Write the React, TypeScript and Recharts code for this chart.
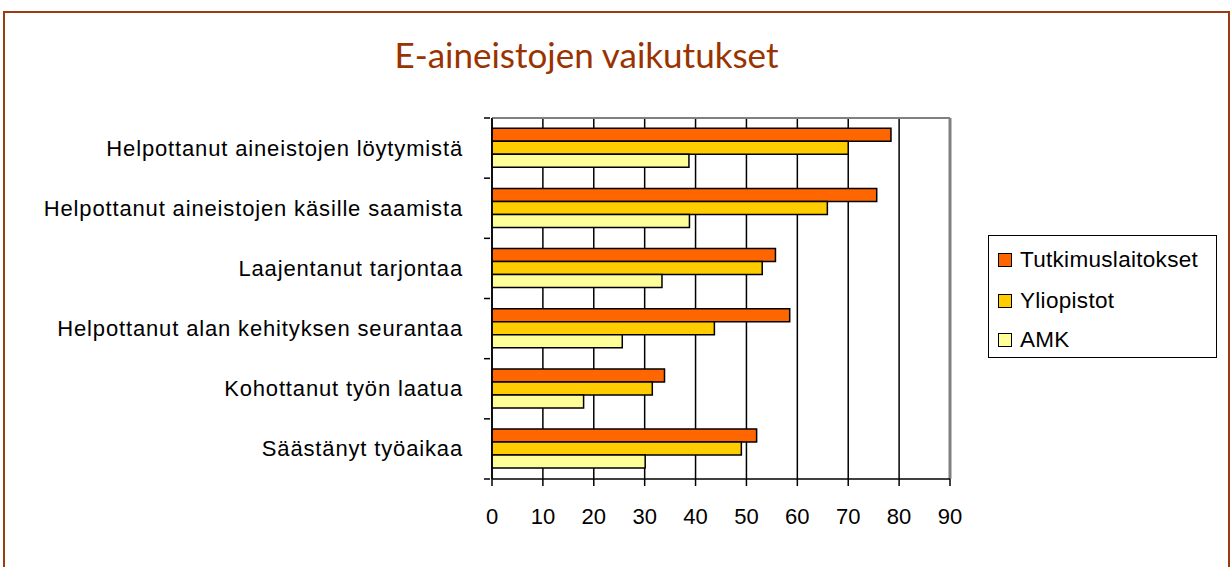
import React from "react";
import { BarChart, Bar, XAxis, YAxis, CartesianGrid, ReferenceLine } from "recharts";

const categories = [
  "Helpottanut aineistojen löytymistä",
  "Helpottanut aineistojen käsille saamista",
  "Laajentanut tarjontaa",
  "Helpottanut alan kehityksen seurantaa",
  "Kohottanut työn laatua",
  "Säästänyt työaikaa",
];
const tutkimuslaitokset = [78.4, 75.6, 55.7, 58.5, 33.9, 52.0];
const yliopistot = [70.0, 65.9, 53.1, 43.7, 31.5, 49.0];
const amk = [38.7, 38.8, 33.4, 25.6, 18.0, 30.1];
const xTicks = [0, 10, 20, 30, 40, 50, 60, 70, 80, 90];

const seriesNames = ["Tutkimuslaitokset", "Yliopistot", "AMK"];
const seriesColors = ["#FF6600", "#FFCC00", "#FFFF99"];

const data = categories.map((c, i) => ({
  name: c,
  Tutkimuslaitokset: tutkimuslaitokset[i],
  Yliopistot: yliopistot[i],
  AMK: amk[i],
}));

const FONT = "'Liberation Sans', Arial, sans-serif";
const HALF_BAND = 30.08;

const YTick = (props: any) => {
  const { x, y, payload, index } = props;
  const ax = x + 6;
  return (
    <g>
      <text
        x={ax - 27}
        y={y}
        textAnchor="end"
        dominantBaseline="central"
        fontFamily={FONT}
        fontSize={22}
        letterSpacing={0.85}
        fill="#000"
      >
        {payload.value}
      </text>
      <line x1={ax - 6} x2={ax} y1={y - HALF_BAND} y2={y - HALF_BAND} stroke="#000" strokeWidth={1.5} />
      {index === categories.length - 1 ? (
        <line x1={ax - 6} x2={ax} y1={y + HALF_BAND} y2={y + HALF_BAND} stroke="#000" strokeWidth={1.5} />
      ) : null}
    </g>
  );
};

const XTick = (props: any) => {
  const { x, y, payload } = props;
  return (
    <text x={x} y={y + 28} textAnchor="middle" dominantBaseline="central" fontFamily={FONT} fontSize={22} fill="#000">
      {payload.value}
    </text>
  );
};

const LegendBox = () => (
  <div
    style={{
      position: "absolute",
      left: 988,
      top: 235,
      width: 229,
      height: 123,
      border: "1.5px solid #000",
      background: "#fff",
      fontFamily: FONT,
      fontSize: 22.5,
      letterSpacing: 0.3,
      boxSizing: "border-box",
    }}
  >
    {seriesNames.map((n, i) => (
      <div
        key={n}
        style={{
          position: "absolute",
          left: 9,
          top: 24 - 12 + [0, 41, 80][i],
          display: "flex",
          alignItems: "center",
          height: 24,
          whiteSpace: "nowrap",
        }}
      >
        <div
          style={{
            width: 12,
            height: 12,
            background: seriesColors[i],
            border: "1.5px solid #000",
            marginRight: 8,
            flex: "none",
          }}
        />
        <span>{n}</span>
      </div>
    ))}
  </div>
);

export default function App() {
  return (
    <div style={{ position: "absolute", left: 0, top: 0, width: 1230, height: 567, background: "#fff", overflow: "hidden" }}>
      <div
        style={{
          position: "absolute",
          left: 3,
          top: 11,
          width: 1223,
          height: 600,
          borderLeft: "2px solid #9A3B12",
          borderTop: "2px solid #9A3B12",
          borderRight: "2px solid #9A3B12",
        }}
      />
      <svg width={1230} height={100} style={{ position: "absolute", left: 0, top: 0 }}>
        <text
          x={586.5}
          y={68}
          textAnchor="middle"
          fontFamily="Lato, 'Open Sans', sans-serif"
          fontSize={35}
          fill="#993300"
        >
          E-aineistojen vaikutukset
        </text>
      </svg>
      <div style={{ position: "absolute", left: 0, top: 0 }}>
        <BarChart
          width={1230}
          height={567}
          data={data}
          layout="vertical"
          margin={{ top: 118, right: 280, bottom: 48, left: 0 }}
          barCategoryGap="17%"
          barGap={0}
        >
          <CartesianGrid horizontal={false} stroke="#000" strokeWidth={1.5} />
          <CartesianGrid vertical={false} horizontalPoints={[118]} stroke="#808080" strokeWidth={2} />
          <XAxis
            type="number"
            domain={[0, 90]}
            ticks={xTicks}
            interval={0}
            height={40}
            axisLine={{ stroke: "#000", strokeWidth: 1.5 }}
            tickLine={{ stroke: "#000", strokeWidth: 1.5 }}
            tickSize={7}
            tick={<XTick />}
          />
          <YAxis
            type="category"
            dataKey="name"
            width={492}
            axisLine={{ stroke: "#000", strokeWidth: 1.5 }}
            tickLine={false}
            tick={<YTick />}
            interval={0}
          />
          <ReferenceLine x={90} stroke="#808080" strokeWidth={3} />
          {seriesNames.map((n, i) => (
            <Bar
              key={n}
              dataKey={n}
              fill={seriesColors[i]}
              stroke="#000"
              strokeWidth={1.5}
              isAnimationActive={false}
            />
          ))}
        </BarChart>
      </div>
      <LegendBox />
    </div>
  );
}
